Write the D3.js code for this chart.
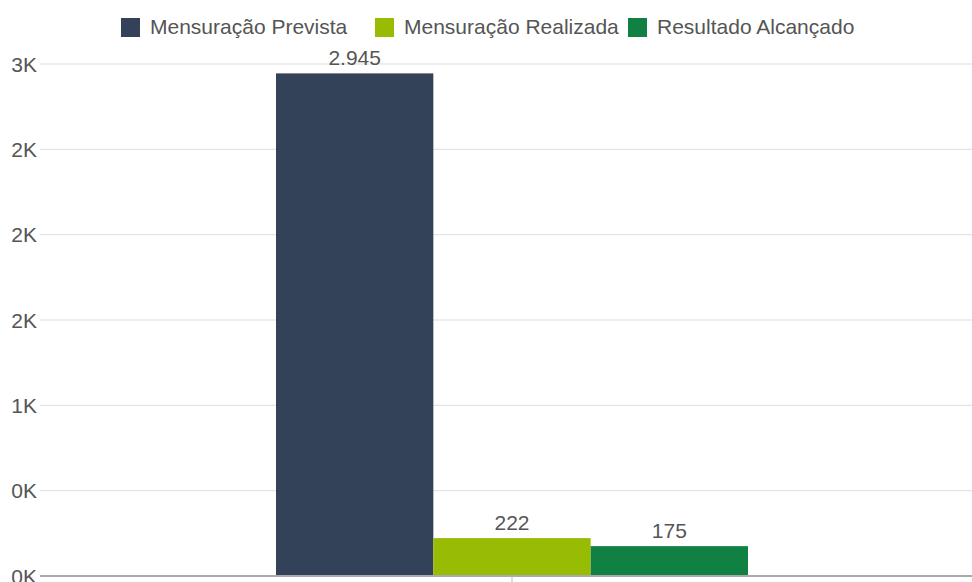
<!DOCTYPE html>
<html>
<head>
<meta charset="utf-8">
<script src="https://cdn.jsdelivr.net/npm/d3@7"></script>
<style>
  body { margin: 0; background: #fff; }
  text { font-family: "Liberation Sans", Arial, sans-serif; }
</style>
</head>
<body>
<div id="chart"></div>
<script>
// data
const categories = [""];
const seriesNames = ["Mensuração Prevista", "Mensuração Realizada", "Resultado Alcançado"];
const seriesValues = [2945, 222, 175];
const valueLabels = ["2.945", "222", "175"];
const yTicks = [0, 500, 1000, 1500, 2000, 2500, 3000];
const yTickLabels = ["0K", "0K", "1K", "2K", "2K", "2K", "3K"];
const colors = ["#344259", "#98bb03", "#108043"];

const width = 972, height = 582;
const svg = d3.select("#chart").append("svg")
    .attr("width", width)
    .attr("height", height);

const x = d3.scaleBand()
    .domain(categories)
    .range([40, 984])
    .paddingInner(0)
    .paddingOuter(0.5);

const xSub = d3.scaleBand()
    .domain(seriesNames)
    .range([0, x.bandwidth()]);

const y = d3.scaleLinear()
    .domain([0, 3000])
    .range([576, 64]);

// gridlines
svg.append("g").selectAll("line")
    .data(yTicks.slice(1))
    .enter().append("line")
    .attr("x1", 40).attr("x2", width)
    .attr("y1", d => y(d)).attr("y2", d => y(d))
    .attr("stroke", "#dddddd")
    .attr("stroke-width", 1);

// y tick labels
svg.append("g").selectAll("text")
    .data(yTicks)
    .enter().append("text")
    .attr("x", 37)
    .attr("y", d => y(d) + 7.5)
    .attr("text-anchor", "end")
    .attr("font-size", "21px")
    .attr("fill", "#555")
    .text((d, i) => yTickLabels[i]);

// bars
const group = svg.append("g")
    .attr("transform", "translate(" + x(categories[0]) + ",0)");

group.selectAll("rect")
    .data(seriesValues)
    .enter().append("rect")
    .attr("x", (d, i) => xSub(seriesNames[i]))
    .attr("width", xSub.bandwidth())
    .attr("y", d => y(d))
    .attr("height", d => y(0) - y(d))
    .attr("fill", (d, i) => colors[i]);

group.selectAll("text")
    .data(seriesValues)
    .enter().append("text")
    .attr("x", (d, i) => xSub(seriesNames[i]) + xSub.bandwidth() / 2)
    .attr("y", d => y(d) - 8)
    .attr("text-anchor", "middle")
    .attr("font-size", "21px")
    .attr("fill", "#555")
    .text((d, i) => valueLabels[i]);

// baseline + category tick
svg.append("line")
    .attr("x1", 40).attr("x2", width)
    .attr("y1", y(0)).attr("y2", y(0))
    .attr("stroke", "#aaaaaa")
    .attr("stroke-width", 2);
svg.append("line")
    .attr("x1", x(categories[0]) + x.bandwidth() / 2)
    .attr("x2", x(categories[0]) + x.bandwidth() / 2)
    .attr("y1", y(0)).attr("y2", height)
    .attr("stroke", "#bbbbbb")
    .attr("stroke-width", 1);

// legend
const legendX = [121, 375, 628];
const legend = svg.append("g");
seriesNames.forEach(function(name, i) {
    legend.append("rect")
        .attr("x", legendX[i])
        .attr("y", 18)
        .attr("width", 19)
        .attr("height", 19)
        .attr("fill", colors[i]);
    legend.append("text")
        .attr("x", legendX[i] + 29)
        .attr("y", 34)
        .attr("font-size", "21px")
        .attr("fill", "#555")
        .text(name);
});
</script>
</body>
</html>
